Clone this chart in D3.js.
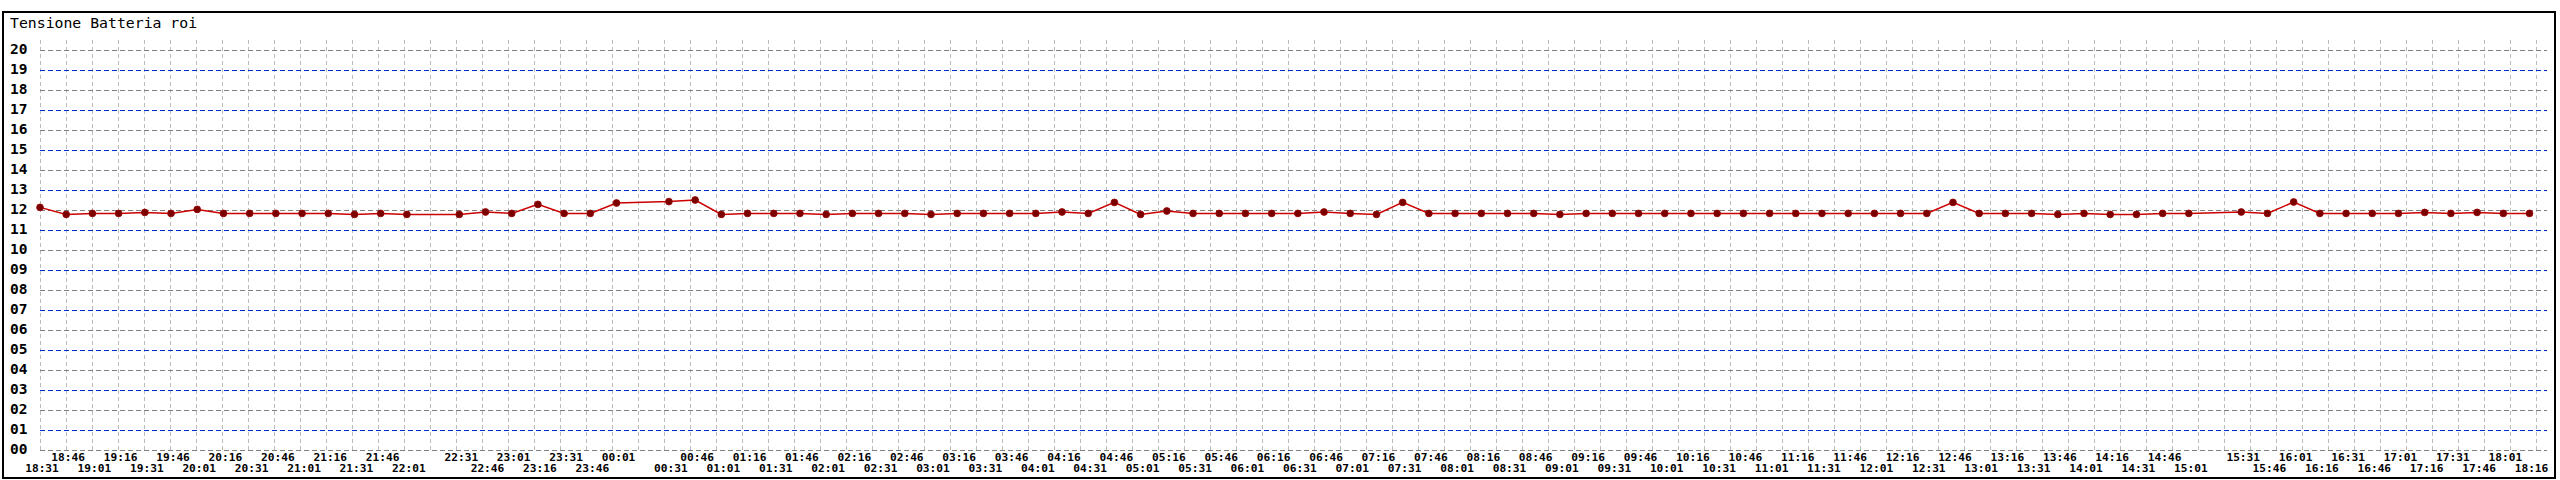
<!DOCTYPE html>
<html>
<head>
<meta charset="utf-8">
<script src="https://cdn.jsdelivr.net/npm/d3@7"></script>
<style>
  html, body { margin: 0; padding: 0; background: #fff; }
  svg { display: block; }
</style>
</head>
<body>
<svg id="chart" width="2560" height="480"></svg>
<script>
const title = "Tensione Batteria roi";

const times = [
  "18:31","18:46","19:01","19:16","19:31","19:46","20:01","20:16","20:31","20:46",
  "21:01","21:16","21:31","21:46","22:01","22:31","22:46","23:01","23:16","23:31",
  "23:46","00:01","00:31","00:46","01:01","01:16","01:31","01:46","02:01","02:16",
  "02:31","02:46","03:01","03:16","03:31","03:46","04:01","04:16","04:31","04:46",
  "05:01","05:16","05:31","05:46","06:01","06:16","06:31","06:46","07:01","07:16",
  "07:31","07:46","08:01","08:16","08:31","08:46","09:01","09:16","09:31","09:46",
  "10:01","10:16","10:31","10:46","11:01","11:16","11:31","11:46","12:01","12:16",
  "12:31","12:46","13:01","13:16","13:31","13:46","14:01","14:16","14:31","14:46",
  "15:01","15:31","15:46","16:01","16:16","16:31","16:46","17:01","17:16","17:31",
  "17:46","18:01","18:16"
];

const voltage = [
  12.13,11.78,11.83,11.83,11.88,11.83,12.03,11.83,11.83,11.83,
  11.83,11.83,11.78,11.83,11.78,11.78,11.90,11.83,12.28,11.83,
  11.83,12.35,12.42,12.50,11.78,11.83,11.83,11.83,11.78,11.83,
  11.83,11.83,11.78,11.83,11.83,11.83,11.83,11.90,11.83,12.38,
  11.78,11.95,11.83,11.83,11.83,11.83,11.83,11.90,11.83,11.78,
  12.38,11.83,11.83,11.83,11.83,11.83,11.78,11.83,11.83,11.83,
  11.83,11.83,11.83,11.83,11.83,11.83,11.83,11.83,11.83,11.83,
  11.83,12.38,11.83,11.83,11.83,11.78,11.83,11.78,11.78,11.83,
  11.83,11.90,11.83,12.40,11.83,11.83,11.83,11.83,11.88,11.83,
  11.88,11.83,11.83
];

const yTicks = d3.range(0, 21);
const slotMinutes = 15;
const totalSlots = 96;      // 18:31 -> 18:16 next day
const gridColumns = 96;

function toMin(t) { const [h, m] = t.split(":").map(Number); return h * 60 + m; }
const t0 = toMin(times[0]);
const data = times.map((t, i) => {
  let d = toMin(t) - t0; if (d < 0) d += 1440;
  return { t, slot: d / slotMinutes, v: voltage[i], i };
});

const svg = d3.select("#chart");
const x = d3.scaleLinear().domain([0, totalSlots - 1]).range([40, 2529.5]);
const xGrid = d3.scaleLinear().domain([0, gridColumns]).range([40, 2536]);
const y = d3.scaleLinear().domain([0, 20]).range([450, 50]);
const plotRight = 2547;

svg.append("rect").attr("x", 3).attr("y", 12).attr("width", 2552).attr("height", 466)
  .attr("fill", "#fff").attr("stroke", "#000").attr("stroke-width", 2);

svg.append("text").attr("x", 10).attr("y", 28)
  .attr("font-family", "DejaVu Sans Mono, monospace").attr("font-size", 14.8)
  .attr("fill", "#000").text(title);

svg.append("g").attr("shape-rendering", "crispEdges")
  .selectAll("line").data(d3.range(0, gridColumns + 1)).join("line")
  .attr("x1", d => Math.round(xGrid(d)) + 0.5).attr("x2", d => Math.round(xGrid(d)) + 0.5)
  .attr("y1", 40).attr("y2", y(0))
  .attr("stroke", "#bbbbbb").attr("stroke-width", 1).attr("stroke-dasharray", "4,3");

svg.append("g").attr("shape-rendering", "crispEdges")
  .selectAll("line").data(yTicks).join("line")
  .attr("x1", 40).attr("x2", plotRight)
  .attr("y1", d => Math.round(y(d)) + 0.5).attr("y2", d => Math.round(y(d)) + 0.5)
  .attr("stroke", d => d % 2 ? "#0030c8" : "#7f7f7f")
  .attr("stroke-width", 1)
  .attr("stroke-dasharray", "5,3");

svg.append("g").selectAll("text").data(yTicks).join("text")
  .attr("x", 10).attr("y", d => y(d) + 3.5)
  .attr("font-family", "DejaVu Sans Mono, monospace").attr("font-size", 14.5)
  .attr("font-weight", "bold").attr("fill", "#000")
  .text(d => d3.format("02d")(d));

svg.append("g").selectAll("text").data(data).join("text")
  .attr("x", d => x(d.slot) + 2).attr("y", d => d.i % 2 ? 461 : 472)
  .attr("text-anchor", "middle")
  .attr("font-family", "DejaVu Sans Mono, monospace").attr("font-size", 11.2)
  .attr("font-weight", "bold").attr("fill", "#000")
  .text(d => d.t);

svg.append("path").datum(data)
  .attr("d", d3.line().x(d => x(d.slot)).y(d => y(d.v)))
  .attr("fill", "none").attr("stroke", "#cc0000").attr("stroke-width", 1.5);

svg.append("g").selectAll("circle").data(data).join("circle")
  .attr("cx", d => x(d.slot)).attr("cy", d => y(d.v)).attr("r", 3.4)
  .attr("fill", "#7a0000").attr("stroke", "#9a0000").attr("stroke-width", 0.8);
</script>
</body>
</html>
